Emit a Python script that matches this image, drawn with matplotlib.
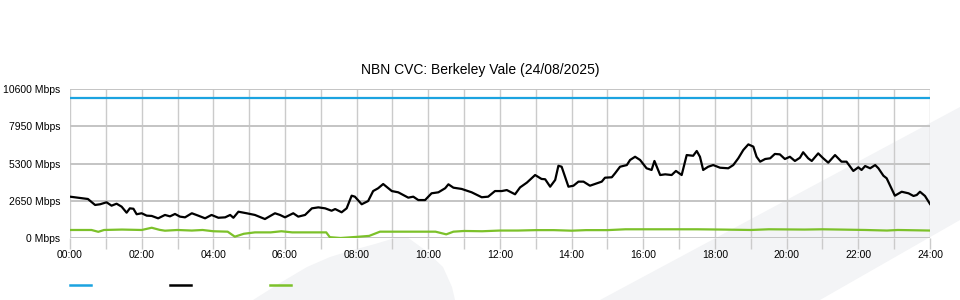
import matplotlib
matplotlib.use("Agg")
import matplotlib.pyplot as plt
from matplotlib.patches import Polygon
from matplotlib.lines import Line2D

plt.rcParams['font.family'] = ['Liberation Sans', 'DejaVu Sans']

title = "NBN CVC: Berkeley Vale (24/08/2025)"
y_ticks = [0, 2650, 5300, 7950, 10600]
y_labels = ["0 Mbps", "2650 Mbps", "5300 Mbps", "7950 Mbps", "10600 Mbps"]
x_ticks = [0, 2, 4, 6, 8, 10, 12, 14, 16, 18, 20, 22, 24]
x_labels = ["00:00", "02:00", "04:00", "06:00", "08:00", "10:00", "12:00",
            "14:00", "16:00", "18:00", "20:00", "22:00", "24:00"]

capacity_t = [0, 24]
capacity_v = [9960, 9960]

traffic_t = [0.00, 0.50, 0.70, 0.84, 1.02, 1.16, 1.30, 1.44, 1.58, 1.67, 1.77, 1.86,
             2.00, 2.14, 2.28, 2.46, 2.65, 2.79, 2.93, 3.07, 3.21, 3.40, 3.58, 3.77,
             3.95, 4.14, 4.33, 4.47, 4.56, 4.70, 4.93, 5.16, 5.44, 5.72, 5.86, 6.00,
             6.23, 6.37, 6.56, 6.75, 6.93, 7.12, 7.30, 7.40, 7.58, 7.72, 7.86, 7.95,
             8.14, 8.32, 8.46, 8.60, 8.74, 8.98, 9.16, 9.44, 9.58, 9.72, 9.91, 10.09,
             10.28, 10.47, 10.56, 10.70, 10.93, 11.21, 11.49, 11.67, 11.86, 12.05, 12.19, 12.42,
             12.56, 12.75, 12.98, 13.16, 13.26, 13.40, 13.54, 13.63, 13.72, 13.91, 14.05, 14.19,
             14.33, 14.51, 14.70, 14.84, 14.93, 15.12, 15.21, 15.35, 15.54, 15.63, 15.77, 15.91,
             16.09, 16.23, 16.31, 16.47, 16.61, 16.79, 16.91, 17.07, 17.21, 17.39, 17.49, 17.58,
             17.67, 17.81, 17.95, 18.14, 18.37, 18.51, 18.65, 18.79, 18.93, 19.07, 19.16, 19.26,
             19.40, 19.54, 19.67, 19.81, 19.95, 20.09, 20.23, 20.37, 20.46, 20.60, 20.70, 20.88,
             21.02, 21.16, 21.35, 21.53, 21.67, 21.86, 22.00, 22.09, 22.19, 22.33, 22.47, 22.56,
             22.70, 22.79, 23.02, 23.21, 23.40, 23.54, 23.63, 23.72, 23.86, 24.00]
traffic_v = [2940, 2775, 2350, 2400, 2540, 2300, 2440, 2230, 1800, 2110, 2080, 1690,
             1760, 1590, 1570, 1400, 1640, 1540, 1710, 1520, 1470, 1760, 1590, 1400,
             1640, 1440, 1470, 1640, 1440, 1870, 1760, 1640, 1350, 1760, 1640, 1470,
             1760, 1520, 1640, 2110, 2180, 2110, 1940, 2060, 1830, 2110, 3010, 2940,
             2400, 2630, 3340, 3540, 3840, 3340, 3250, 2870, 2940, 2700, 2700, 3180,
             3250, 3540, 3820, 3580, 3490, 3250, 2900, 2940, 3340, 3340, 3410, 3110,
             3600, 3940, 4480, 4200, 4180, 3650, 4130, 5140, 5070, 3650, 3720, 4010,
             4010, 3720, 3890, 4010, 4290, 4320, 4600, 5070, 5190, 5550, 5780, 5550,
             4960, 4840, 5480, 4480, 4530, 4480, 4770, 4480, 5900, 5850, 6190, 5780,
             4840, 5070, 5190, 5000, 4960, 5190, 5670, 6260, 6660, 6500, 5780, 5430,
             5620, 5670, 5980, 5950, 5620, 5780, 5480, 5710, 6100, 5670, 5480, 6020,
             5670, 5360, 5900, 5430, 5430, 4770, 5030, 4840, 5120, 4960, 5190, 4960,
             4430, 4250, 3010, 3290, 3180, 2990, 3060, 3290, 2990, 2420]

upload_t = [0.00, 0.60, 0.79, 0.95, 1.45, 2.00, 2.28, 2.50, 2.65, 3.00, 3.40, 3.70,
            4.00, 4.40, 4.60, 4.85, 5.16, 5.60, 5.90, 6.20, 6.60, 7.15, 7.25, 7.55,
            8.00, 8.35, 8.65, 9.00, 9.80, 10.20, 10.50, 10.70, 11.00, 11.50, 12.00, 12.50,
            13.00, 13.50, 14.00, 14.40, 15.00, 15.50, 16.20, 17.00, 17.50, 18.20, 19.00, 19.50,
            20.50, 21.00, 21.50, 22.20, 22.80, 23.10, 24.00]
upload_v = [570, 570, 440, 570, 600, 570, 730, 580, 520, 570, 530, 570,
            480, 450, 95, 300, 400, 400, 480, 400, 400, 400, 60, 0,
            80, 150, 450, 450, 450, 450, 260, 450, 500, 480, 530, 530,
            560, 560, 520, 560, 560, 620, 620, 620, 620, 600, 570, 620,
            600, 620, 600, 570, 530, 570, 530]

W, H = 960, 300
fig = plt.figure(figsize=(W / 100, H / 100), dpi=100)
fig.patch.set_facecolor("white")

def fc(pts):
    return [(x / W, 1 - y / H) for x, y in pts]

wm = "#f3f4f6"
band = Polygon(fc([(600, 300), (960, 107), (960, 220), (820, 300)]),
               closed=True, transform=fig.transFigure, facecolor=wm,
               edgecolor="none", zorder=-5)
swoosh = Polygon(fc([(253, 300), (280, 283), (307, 267), (330, 257), (353, 250),
                     (375, 244), (395, 238), (407, 237), (425, 250), (443, 267),
                     (452, 287), (455, 300)]),
                 closed=True, transform=fig.transFigure, facecolor=wm,
                 edgecolor="none", zorder=-5)
fig.patches.extend([band, swoosh])

ax = fig.add_axes([70 / W, 1 - 238 / H, 860 / W, 149 / H])
ax.set_facecolor("none")
ax.set_xlim(0, 24)
ax.set_ylim(0, 10600)

ax.set_yticks(y_ticks)
ax.set_yticklabels(y_labels)
ax.set_xticks(x_ticks)
ax.set_xticklabels(x_labels)
ax.set_xticks(range(0, 25), minor=True)

for s in ax.spines.values():
    s.set_visible(False)

ax.grid(axis="y", which="major", color="#c4c4c4", linewidth=1.4)
ax.grid(axis="x", which="both", color="#cbcbcb", linewidth=1.0)
ax.tick_params(axis="y", length=0, pad=7, labelsize=7.5, colors="black")
ax.tick_params(axis="x", which="both", length=8, width=1.0, color="#cbcbcb",
               pad=1, labelsize=7.5, labelcolor="black")
ax.set_axisbelow(True)

blue = "#1ba3e0"
black = "#000000"
green = "#7cc12a"
ax.plot(capacity_t, capacity_v, color=blue, linewidth=1.6, solid_capstyle="butt")
ax.plot(upload_t, upload_v, color=green, linewidth=1.6)
ax.plot(traffic_t, traffic_v, color=black, linewidth=1.6)

fig.text(0.5, 1 - 70 / H, title, ha="center", va="center", fontsize=10)

handles = [Line2D([], [], color=c, linewidth=1.8) for c in (blue, black, green)]
fig.legend(handles, ["", "", ""], ncol=3, loc="center left",
           bbox_to_anchor=(70 / W, 1 - 286 / H), frameon=False,
           fontsize=7.5, handlelength=2.0, handletextpad=0.0,
           columnspacing=7.6, borderpad=0, borderaxespad=0)

fig.savefig("out.png", dpi=100, facecolor="white")
